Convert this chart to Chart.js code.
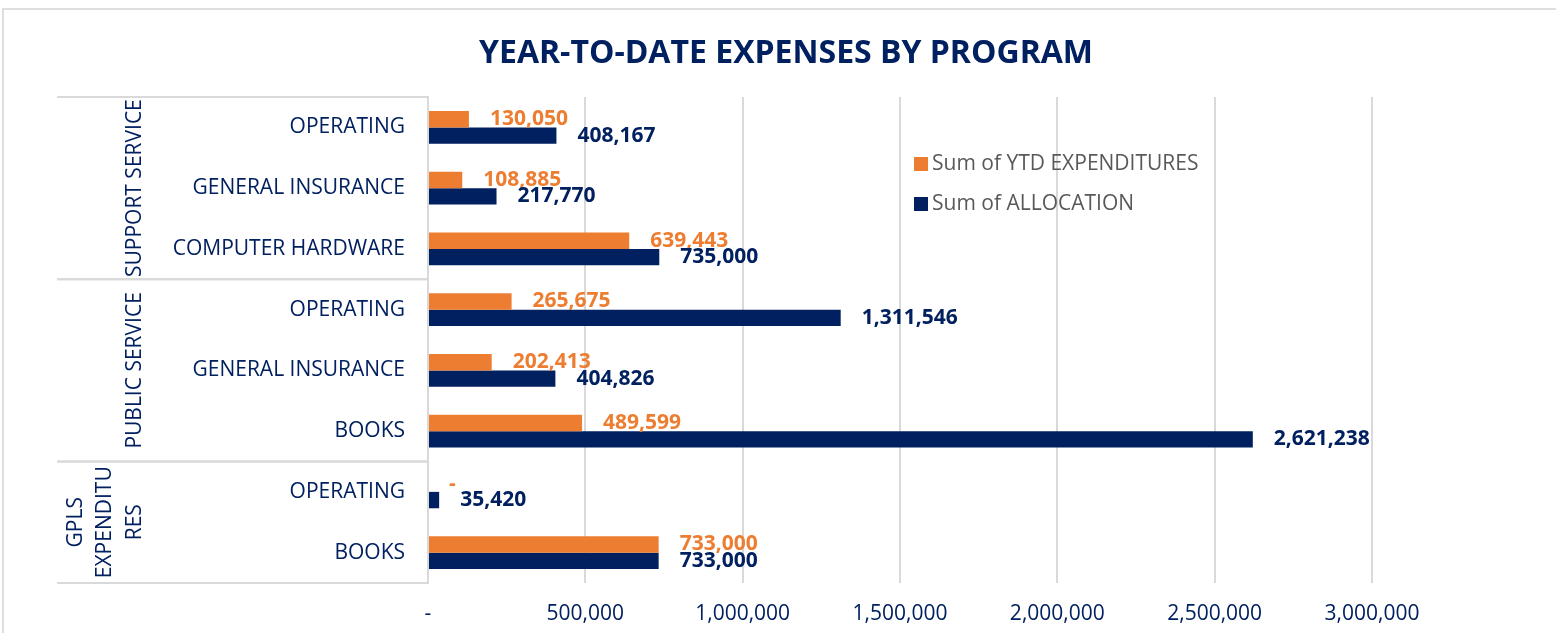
<!DOCTYPE html>
<html>
<head>
<meta charset="utf-8">
<script src="https://cdn.jsdelivr.net/npm/chart.js@4"></script>
<style>
  html, body { margin: 0; padding: 0; background: #fff; overflow: hidden; }
  #frame { position: absolute; left: 2px; top: 8px; width: 1600px; height: 700px; border: 2px solid #dedede; box-sizing: border-box; }
  #chart { position: absolute; left: 0; top: 0; }
</style>
</head>
<body>
<div id="frame"></div>
<canvas id="chart" width="1556" height="633"></canvas>
<script>
// categories top to bottom, grouped by program
const categories = ['OPERATING', 'GENERAL INSURANCE', 'COMPUTER HARDWARE',
                    'OPERATING', 'GENERAL INSURANCE', 'BOOKS',
                    'OPERATING', 'BOOKS'];
const groupLabels = [['SUPPORT SERVICE'], ['PUBLIC SERVICE'], ['GPLS', 'EXPENDITU', 'RES']];
const groupSizes = [3, 3, 2];

const ytdExpenditures = [130050, 108885, 639443, 265675, 202413, 489599, 0, 733000];
const allocation = [408167, 217770, 735000, 1311546, 404826, 2621238, 35420, 733000];

const xTickValues = [0, 500000, 1000000, 1500000, 2000000, 2500000, 3000000];

const chartTitle = 'YEAR-TO-DATE EXPENSES BY PROGRAM';

const NAVY = '#002060';
const ORANGE = '#ED7D31';
const GRID = '#d9d9d9';

Chart.defaults.font.family = "'Open Sans', sans-serif";

const fmt = v => v === 0 ? '-' : v.toLocaleString('en-US');

// title centred on the whole canvas (Chart.js title would centre on the padded area)
const pageTitle = {
    id: 'pageTitle',
    afterDraw(chart) {
        const ctx = chart.ctx;
        ctx.save();
        ctx.font = "bold 32px 'Open Sans'";
        ctx.fillStyle = NAVY;
        ctx.textAlign = 'center';
        ctx.textBaseline = 'middle';
        ctx.fillText(chartTitle, chart.width / 2 + 8, 54);
        ctx.restore();
    }
};

// value labels just past the end of each bar
const valueLabels = {
    id: 'valueLabels',
    afterDatasetsDraw(chart) {
        const ctx = chart.ctx;
        ctx.save();
        ctx.font = "bold 21px 'Open Sans'";
        ctx.textBaseline = 'middle';
        ctx.textAlign = 'left';
        chart.data.datasets.forEach((ds, i) => {
            const meta = chart.getDatasetMeta(i);
            ctx.fillStyle = ds.labelColor;
            meta.data.forEach((bar, j) => {
                ctx.fillText(fmt(ds.data[j]), bar.x + 21, bar.y);
            });
        });
        ctx.restore();
    }
};

// outer category level + row separators in the label area
const groupAxis = {
    id: 'groupAxis',
    afterDraw(chart) {
        const { ctx, chartArea, scales: { y } } = chart;
        ctx.save();
        ctx.strokeStyle = GRID;
        ctx.lineWidth = 2;
        ctx.fillStyle = NAVY;
        ctx.font = "21px 'Open Sans'";
        ctx.textAlign = 'center';
        ctx.textBaseline = 'middle';
        let start = 0;
        groupSizes.forEach((n, g) => {
            const top = y.getPixelForValue(start - 0.5);
            const bottom = y.getPixelForValue(start + n - 0.5);
            [top, bottom].forEach(py => {
                ctx.beginPath();
                ctx.moveTo(57, py);
                ctx.lineTo(chartArea.left, py);
                ctx.stroke();
            });
            const lines = groupLabels[g];
            const mid = (top + bottom) / 2;
            lines.forEach((txt, k) => {
                const px = 135 - (lines.length - 1 - k) * 29.5;
                ctx.save();
                ctx.translate(px, mid);
                ctx.rotate(-Math.PI / 2);
                ctx.fillText(txt, 0, 0);
                ctx.restore();
            });
            start += n;
        });
        ctx.restore();
    }
};

// legend sitting inside the plot area
const innerLegend = {
    id: 'innerLegend',
    afterDraw(chart) {
        const { ctx, chartArea } = chart;
        const x = chartArea.left + 486;
        let y = chartArea.top + 67;
        ctx.save();
        ctx.font = "21px 'Open Sans'";
        ctx.textBaseline = 'middle';
        ctx.textAlign = 'left';
        chart.data.datasets.forEach(ds => {
            ctx.fillStyle = ds.backgroundColor;
            ctx.fillRect(x, y - 7, 14, 14);
            ctx.fillStyle = '#595959';
            ctx.fillText(ds.label, x + 18, y);
            y += 40;
        });
        ctx.restore();
    }
};

new Chart(document.getElementById('chart'), {
    type: 'bar',
    data: {
        labels: categories,
        datasets: [
            {
                label: 'Sum of YTD EXPENDITURES',
                data: ytdExpenditures,
                backgroundColor: ORANGE,
                labelColor: ORANGE,
                categoryPercentage: 0.54,
                barPercentage: 1.0
            },
            {
                label: 'Sum of ALLOCATION',
                data: allocation,
                backgroundColor: NAVY,
                labelColor: NAVY,
                categoryPercentage: 0.54,
                barPercentage: 1.0
            }
        ]
    },
    options: {
        indexAxis: 'y',
        responsive: false,
        animation: false,
        layout: { padding: { left: 0, right: 184, top: 97, bottom: 0 } },
        plugins: {
            legend: { display: false },
            tooltip: { enabled: false },
            title: { display: false }
        },
        scales: {
            x: {
                min: 0,
                max: 3000000,
                afterBuildTicks: scale => { scale.ticks = xTickValues.map(v => ({ value: v })); },
                afterFit: scale => { scale.height = 50; },
                grid: { color: GRID, lineWidth: 2, drawTicks: false },
                border: { display: false },
                ticks: {
                    color: NAVY,
                    font: { size: 21 },
                    padding: 18,
                    maxRotation: 0,
                    callback: v => fmt(v)
                }
            },
            y: {
                afterFit: scale => { scale.width = 428; },
                grid: { display: false },
                border: { display: true, color: GRID, width: 2 },
                ticks: {
                    color: NAVY,
                    font: { size: 21 },
                    padding: 15
                }
            }
        }
    },
    plugins: [valueLabels, groupAxis, innerLegend, pageTitle]
});
</script>
</body>
</html>
